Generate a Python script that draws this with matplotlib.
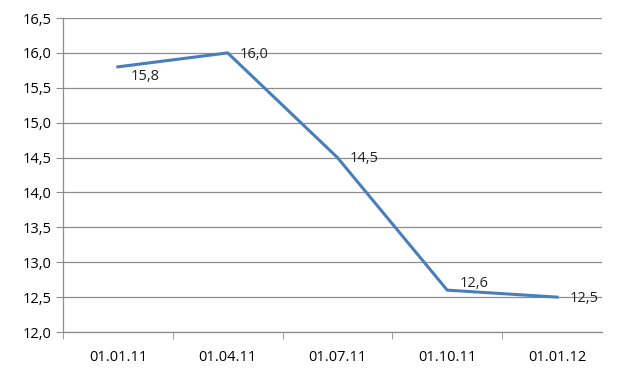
import matplotlib
matplotlib.use("Agg")
import matplotlib.pyplot as plt
import numpy as np

# data
dates = ["01.01.11", "01.04.11", "01.07.11", "01.10.11", "01.01.12"]
values = [15.8, 16.0, 14.5, 12.6, 12.5]
# label offsets in points (dx, dy)
label_offsets = [(9, -7), (9, -1), (9, -1), (9, 5), (9, -1)]

plt.rcParams['font.family'] = ['Open Sans', 'DejaVu Sans']

fig = plt.figure(figsize=(6.29, 3.86), dpi=100)
ax = fig.add_axes([63 / 629, 54 / 386, 539 / 629, 314 / 386])

x = np.arange(len(dates))
ax.plot(x, values, color="#4A7EBB", linewidth=2.2, solid_joinstyle="miter", zorder=3)

for xi, v, (dx, dy) in zip(x, values, label_offsets):
    ax.annotate(f"{v:.1f}".replace(".", ","), (xi, v), xytext=(dx, dy),
                textcoords="offset points", ha="left", va="center",
                fontsize=10.5, color="#222222")

# the last category is clipped by the plot area on the right
ax.set_xlim(-0.5, len(dates) - 0.59)
ax.set_ylim(12.0, 16.5)
yticks = np.arange(12.0, 16.51, 0.5)
ax.set_yticks(yticks)
ax.set_yticklabels([f"{t:.1f}".replace(".", ",") for t in yticks], fontsize=10.5)
ax.yaxis.grid(True, color="#8c8c8c", linewidth=0.9)
ax.set_axisbelow(True)

ax.set_xticks(x)
ax.set_xticklabels(dates, fontsize=10.5)
ax.set_xticks(np.arange(-0.5, len(dates) - 1), minor=True)
ax.tick_params(axis="x", which="major", length=0, pad=13)
ax.tick_params(axis="x", which="minor", length=5, color="#8c8c8c", direction="out")
ax.tick_params(axis="y", length=5, color="#8c8c8c", direction="out", pad=3)

for s in ["top", "right"]:
    ax.spines[s].set_visible(False)
for s in ["left", "bottom"]:
    ax.spines[s].set_color("#8c8c8c")
    ax.spines[s].set_linewidth(0.9)

fig.savefig("out.png", dpi=100)
